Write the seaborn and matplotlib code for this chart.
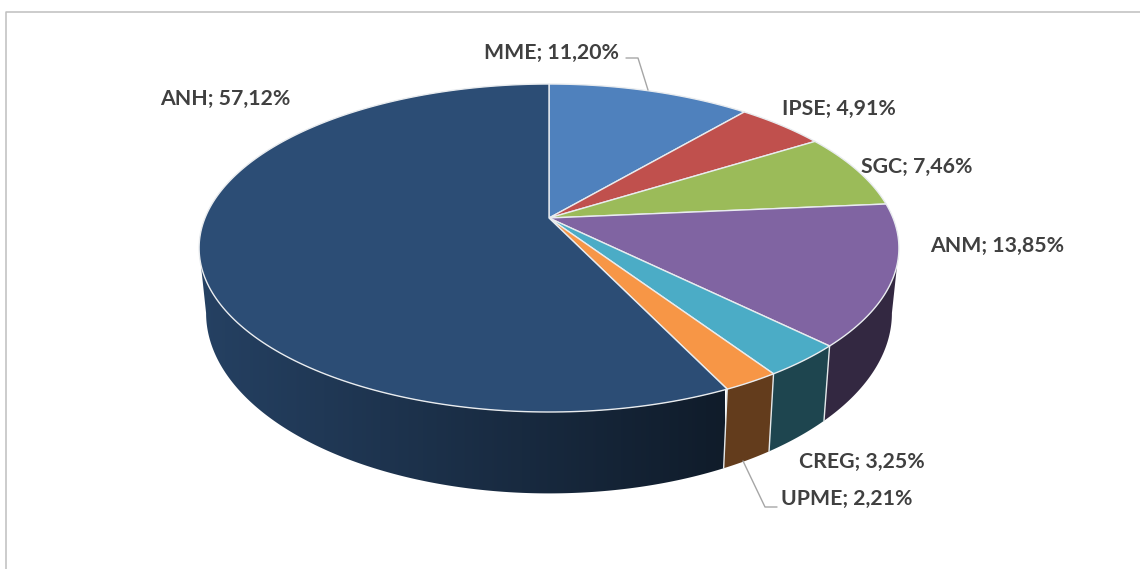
import numpy as np
import matplotlib
matplotlib.use("Agg")
import matplotlib.pyplot as plt
from matplotlib.patches import Polygon
import seaborn as sns

# data
agencies = ["MME", "IPSE", "SGC", "ANM", "CREG", "UPME", "ANH"]
shares = [11.20, 4.91, 7.46, 13.85, 3.25, 2.21, 57.12]
hex_colors = ["#4F81BD", "#C0504D", "#9BBB59", "#8064A2", "#4BACC6", "#F79646", "#2C4D75"]

# label placement in pixels (left edge, middle)
label_pos = {
    "MME": (484, 53), "IPSE": (782, 109), "SGC": (861, 167), "ANM": (930, 246),
    "CREG": (799, 462), "UPME": (781, 499), "ANH": (160, 99),
}

sns.set_theme(style="white")
plt.rcParams["font.family"] = ["Lato", "DejaVu Sans"]
palette = sns.color_palette(hex_colors)

# perspective of the pie disc
CX, AY = 549, 218
K, A, B = 0.183, 344, 158.5
SX, SY, DROP = 0.98, 1.10, 62
# widest points of the disc, the wall outline starts there
WALL_LO = np.pi - np.arccos(K)
WALL_HI = np.pi + np.arccos(K)


def top_rim(t):
    z = np.cos(t)
    d = 1 + K * z
    return CX + A * np.sin(t) / d, AY - B * z / d


def bottom_rim(t):
    z = np.cos(t)
    d = 1 + K * z
    return CX + SX * A * np.sin(t) / d, AY - SY * B * z / d + DROP


fig = plt.figure(figsize=(11.4, 5.69), dpi=100)
ax = fig.add_axes([0, 0, 1, 1])
ax.axis("off")

# chart frame, only top and left are in the crop
ax.plot([6, 6, 1140], [569, 12, 12], color="#BFBFBF", lw=1.1, zorder=1)

edges = np.radians(np.concatenate([[0], np.cumsum(shares)]) * 3.6)

# side walls
for i in range(len(agencies)):
    lo, hi = max(edges[i], WALL_LO), min(edges[i + 1], WALL_HI)
    if hi <= lo:
        continue
    ts = np.linspace(lo, hi, 200)
    xt, yt = top_rim(ts)
    xb, yb = bottom_rim(ts)
    pts = np.c_[np.r_[xt, xb[::-1]], np.r_[yt, yb[::-1]]]
    base = np.array(palette[i])
    if agencies[i] == "ANH":
        # darkens from left to right
        shade = np.linspace(0.84, 0.36, 256)[None, :, None]
        grad = np.clip(base[None, None, :] * shade, 0, 1)
        poly = Polygon(pts, closed=True, facecolor="none", edgecolor="none", transform=ax.transData)
        ax.add_patch(poly)
        im = ax.imshow(grad, extent=[200, 725, 500, 150], aspect="auto", zorder=2,
                       interpolation="bilinear")
        im.set_clip_path(poly)
    else:
        ax.add_patch(Polygon(pts, closed=True, facecolor=tuple(base * 0.40), edgecolor="none", zorder=2))

ax.set_xlim(0, 1140)
ax.set_ylim(569, 0)

# seams between the walls
for t in edges[1:-1]:
    if WALL_LO < t < WALL_HI:
        x0, y0 = top_rim(t)
        x1, y1 = bottom_rim(t)
        ax.plot([x0, x1], [y0, y1], color="#E4E8EA", lw=1.0, zorder=3)

# top faces
for i in range(len(agencies)):
    ts = np.linspace(edges[i], edges[i + 1], 200)
    xs, ys = top_rim(ts)
    ax.fill(np.r_[CX, xs], np.r_[AY, ys], facecolor=palette[i],
            edgecolor="#E9ECEF", lw=1.0, joinstyle="round", zorder=4)

# leader lines
ax.plot([626, 638, 648], [58, 58, 90], color="#A6A6A6", lw=1.0, zorder=5)
ax.plot([743, 765, 777], [461, 507, 507], color="#A6A6A6", lw=1.0, zorder=5)

for name, val in zip(agencies, shares):
    x, y = label_pos[name]
    txt = f"{name}; {val:.2f}%".replace(".", ",")
    ax.text(x, y, txt, ha="left", va="center", fontsize=15.3,
            fontweight="bold", color="#404040", zorder=6)

fig.savefig("out.png", dpi=100, facecolor="white")
